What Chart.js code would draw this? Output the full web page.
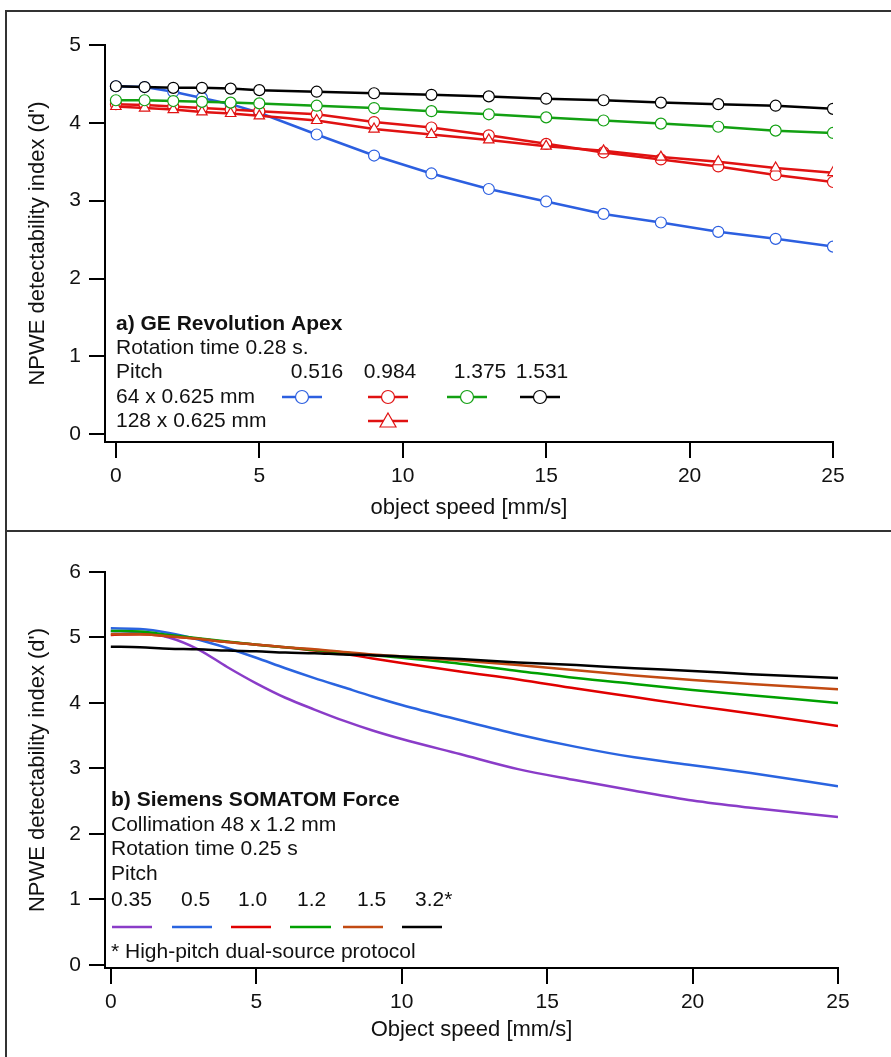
<!DOCTYPE html>
<html>
<head>
<meta charset="utf-8">
<script src="https://cdn.jsdelivr.net/npm/chart.js@4.4.0/dist/chart.umd.min.js"></script>
<style>
    body { margin: 0; background: #fff; }
    #page { position: relative; width: 891px; height: 1057px; overflow: hidden; }
    .frame { position: absolute; border: 2px solid #333; box-sizing: border-box; }
    canvas { position: absolute; left: 0; }
</style>
</head>
<body>
<div id="page">
    <div class="frame" style="left:5px; top:10px; width:890px; height:522px;"></div>
    <div class="frame" style="left:5px; top:530px; width:890px; height:540px;"></div>
    <canvas id="chartA" width="891" height="530" style="top:0"></canvas>
    <canvas id="chartB" width="891" height="527" style="top:530px"></canvas>
</div>
<script>
// Panel a) GE Revolution Apex
const speedsA = [0, 1, 2, 3, 4, 5, 7, 9, 11, 13, 15, 17, 19, 21, 23, 25];
const blue0516 = [4.47, 4.46, 4.40, 4.32, 4.24, 4.13, 3.85, 3.58, 3.35, 3.15, 2.99, 2.83, 2.72, 2.60, 2.51, 2.41];
const red0984 = [4.24, 4.23, 4.21, 4.19, 4.17, 4.15, 4.11, 4.01, 3.94, 3.84, 3.73, 3.62, 3.53, 3.44, 3.33, 3.24];
const red0984w128 = [4.21, 4.19, 4.17, 4.14, 4.12, 4.09, 4.03, 3.92, 3.85, 3.78, 3.70, 3.64, 3.56, 3.50, 3.42, 3.36];
const green1375 = [4.29, 4.29, 4.28, 4.27, 4.26, 4.25, 4.22, 4.19, 4.15, 4.11, 4.07, 4.03, 3.99, 3.95, 3.90, 3.87];
const black1531 = [4.47, 4.46, 4.45, 4.45, 4.44, 4.42, 4.40, 4.38, 4.36, 4.34, 4.31, 4.29, 4.26, 4.24, 4.22, 4.18];
const yTicksA = [0, 1, 2, 3, 4, 5];

// Panel b) Siemens SOMATOM Force
const speedsB = [0, 1, 2, 3, 4, 5, 6, 7, 8, 9, 10, 12, 14, 16, 18, 20, 22, 25];
const pitch035 = [5.10, 5.08, 5.00, 4.82, 4.55, 4.30, 4.08, 3.90, 3.73, 3.58, 3.45, 3.22, 2.99, 2.82, 2.66, 2.51, 2.40, 2.26];
const pitch05 = [5.14, 5.13, 5.07, 4.97, 4.84, 4.69, 4.53, 4.38, 4.24, 4.10, 3.97, 3.74, 3.52, 3.33, 3.17, 3.05, 2.93, 2.73];
const pitch10 = [5.04, 5.05, 5.02, 4.98, 4.93, 4.89, 4.85, 4.80, 4.75, 4.68, 4.61, 4.48, 4.36, 4.22, 4.09, 3.96, 3.84, 3.65];
const pitch12 = [5.10, 5.09, 5.04, 4.99, 4.94, 4.89, 4.85, 4.81, 4.77, 4.73, 4.69, 4.60, 4.49, 4.38, 4.29, 4.20, 4.12, 4.00];
const pitch15 = [5.05, 5.05, 5.02, 4.98, 4.93, 4.89, 4.85, 4.82, 4.78, 4.74, 4.71, 4.65, 4.58, 4.50, 4.42, 4.35, 4.29, 4.21];
const pitch32 = [4.86, 4.85, 4.83, 4.82, 4.80, 4.79, 4.77, 4.76, 4.74, 4.73, 4.71, 4.67, 4.62, 4.58, 4.53, 4.49, 4.44, 4.38];
const yTicksB = [0, 1, 2, 3, 4, 5, 6];

const xTicks = [0, 5, 10, 15, 20, 25];

const FONT = "'Liberation Sans', Arial, sans-serif";
const COL = {
    blue: '#2c5fe0', red: '#e01212', green: '#12a012', black: '#000000',
    purple: '#8a3cc8', blueB: '#2a64e0', redB: '#e00000', greenB: '#00a000', orange: '#c24a12'
};

const pts = (xs, ys) => xs.map((x, i) => ({ x: x, y: ys[i] }));

function markerSet(label, xs, ys, color, style, order) {
    return {
        label: label, data: pts(xs, ys), order: order,
        borderColor: color, borderWidth: 2.5, tension: 0,
        pointStyle: style, pointRadius: style === 'triangle' ? 6 : 5.5,
        pointBackgroundColor: '#fff', pointBorderColor: color, pointBorderWidth: 1.2
    };
}

function lineSet(label, xs, ys, color, order) {
    return {
        label: label, data: pts(xs, ys), order: order,
        borderColor: color, borderWidth: 2.5, pointRadius: 0,
        cubicInterpolationMode: 'monotone'
    };
}

function axes(opts) {
    const tickFont = { size: 21, family: FONT };
    const titleFont = { size: 22, family: FONT };
    return {
        x: {
            type: 'linear', min: opts.xMin, max: 25,
            afterBuildTicks: ax => { ax.ticks = xTicks.map(v => ({ value: v })); },
            afterFit: s => { s.height = opts.xHeight; },
            grid: { drawOnChartArea: false, tickLength: 16, color: '#000', lineWidth: 2 },
            border: { display: true, color: '#000', width: 2 },
            ticks: { color: '#111', font: tickFont, padding: 6, maxRotation: 0 },
            title: { display: true, text: opts.xTitle, color: '#111', font: titleFont, padding: { top: 0, bottom: opts.xTitlePad } }
        },
        y: {
            type: 'linear', min: opts.yMin, max: opts.yMax,
            afterBuildTicks: ax => { ax.ticks = opts.yTicks.map(v => ({ value: v })); },
            afterFit: s => { s.width = 105; },
            grid: { drawOnChartArea: false, tickLength: 16, color: '#000', lineWidth: 2 },
            border: { display: true, color: '#000', width: 2 },
            ticks: { color: '#111', font: tickFont, padding: 8 },
            title: { display: true, text: "NPWE detectability index (d')", color: '#111', font: titleFont, padding: { top: 25, bottom: 0 } }
        }
    };
}

function drawSwatch(ctx, x1, x2, y, color, marker) {
    ctx.save();
    ctx.strokeStyle = color;
    ctx.lineWidth = 2.5;
    ctx.beginPath();
    ctx.moveTo(x1, y);
    ctx.lineTo(x2, y);
    ctx.stroke();
    if (marker) {
        const cx = (x1 + x2) / 2;
        ctx.fillStyle = '#fff';
        ctx.lineWidth = 1.2;
        ctx.beginPath();
        if (marker === 'circle') {
            ctx.arc(cx, y, 6.5, 0, Math.PI * 2);
        } else {
            ctx.moveTo(cx, y - 8);
            ctx.lineTo(cx + 8, y + 6);
            ctx.lineTo(cx - 8, y + 6);
            ctx.closePath();
        }
        ctx.fill();
        ctx.stroke();
    }
    ctx.restore();
}

const legendA = {
    id: 'legendA',
    afterDraw(chart) {
        const ctx = chart.ctx;
        ctx.save();
        ctx.fillStyle = '#111';
        ctx.textBaseline = 'middle';
        ctx.font = 'bold 21px ' + FONT;
        ctx.fillText('a) GE Revolution Apex', 116, 324);
        ctx.font = '21px ' + FONT;
        ctx.fillText('Rotation time 0.28 s.', 116, 348);
        ctx.fillText('Pitch', 116, 372);
        ctx.textAlign = 'center';
        ctx.fillText('0.516', 317, 372);
        ctx.fillText('0.984', 390, 372);
        ctx.fillText('1.375', 480, 372);
        ctx.fillText('1.531', 542, 372);
        ctx.textAlign = 'left';
        ctx.fillText('64 x 0.625 mm', 116, 397);
        ctx.fillText('128 x 0.625 mm', 116, 421);
        ctx.restore();
        drawSwatch(ctx, 282, 322, 397, COL.blue, 'circle');
        drawSwatch(ctx, 368, 408, 397, COL.red, 'circle');
        drawSwatch(ctx, 447, 487, 397, COL.green, 'circle');
        drawSwatch(ctx, 520, 560, 397, COL.black, 'circle');
        drawSwatch(ctx, 368, 408, 421, COL.red, 'triangle');
    }
};

const legendB = {
    id: 'legendB',
    afterDraw(chart) {
        const ctx = chart.ctx;
        const oy = -530;
        ctx.save();
        ctx.fillStyle = '#111';
        ctx.textBaseline = 'middle';
        ctx.font = 'bold 21px ' + FONT;
        ctx.fillText('b) Siemens SOMATOM Force', 111, 800 + oy);
        ctx.font = '21px ' + FONT;
        ctx.fillText('Collimation 48 x 1.2 mm', 111, 825 + oy);
        ctx.fillText('Rotation time 0.25 s', 111, 849 + oy);
        ctx.fillText('Pitch', 111, 874 + oy);
        const labels = ['0.35', '0.5', '1.0', '1.2', '1.5', '3.2*'];
        const lx = [111, 181, 238, 297, 357, 415];
        labels.forEach((t, i) => ctx.fillText(t, lx[i], 900 + oy));
        ctx.fillText('* High-pitch dual-source protocol', 111, 952 + oy);
        ctx.restore();
        const cols = [COL.purple, COL.blueB, COL.redB, COL.greenB, COL.orange, COL.black];
        const sx = [[112, 152], [172, 212], [231, 271], [290, 331], [343, 383], [402, 442]];
        cols.forEach((c, i) => drawSwatch(ctx, sx[i][0], sx[i][1], 927 + oy, c, null));
    }
};

new Chart(document.getElementById('chartA'), {
    type: 'line',
    data: {
        datasets: [
            markerSet('64 x 0.625 mm, pitch 1.531', speedsA, black1531, COL.black, 'circle', 1),
            markerSet('64 x 0.625 mm, pitch 1.375', speedsA, green1375, COL.green, 'circle', 2),
            markerSet('128 x 0.625 mm, pitch 0.984', speedsA, red0984w128, COL.red, 'triangle', 3),
            markerSet('64 x 0.625 mm, pitch 0.984', speedsA, red0984, COL.red, 'circle', 4),
            markerSet('64 x 0.625 mm, pitch 0.516', speedsA, blue0516, COL.blue, 'circle', 5)
        ]
    },
    options: {
        responsive: false,
        animation: false,
        layout: { padding: { top: 45, right: 58, left: 0, bottom: 0 } },
        plugins: { legend: { display: false }, tooltip: { enabled: false } },
        scales: axes({ xMin: -0.38, yMin: -0.1, yMax: 5, yTicks: yTicksA, xHeight: 88, xTitle: 'object speed [mm/s]', xTitlePad: 9 })
    },
    plugins: [legendA]
});

new Chart(document.getElementById('chartB'), {
    type: 'line',
    data: {
        datasets: [
            lineSet('3.2*', speedsB, pitch32, COL.black, 1),
            lineSet('1.5', speedsB, pitch15, COL.orange, 2),
            lineSet('1.2', speedsB, pitch12, COL.greenB, 3),
            lineSet('1.0', speedsB, pitch10, COL.redB, 4),
            lineSet('0.5', speedsB, pitch05, COL.blueB, 5),
            lineSet('0.35', speedsB, pitch035, COL.purple, 6)
        ]
    },
    options: {
        responsive: false,
        animation: false,
        layout: { padding: { top: 42, right: 53, left: 0, bottom: 0 } },
        plugins: { legend: { display: false }, tooltip: { enabled: false } },
        scales: axes({ xMin: -0.2, yMin: -0.046, yMax: 6, yTicks: yTicksB, xHeight: 89, xTitle: 'Object speed [mm/s]', xTitlePad: 14 })
    },
    plugins: [legendB]
});
</script>
</body>
</html>
